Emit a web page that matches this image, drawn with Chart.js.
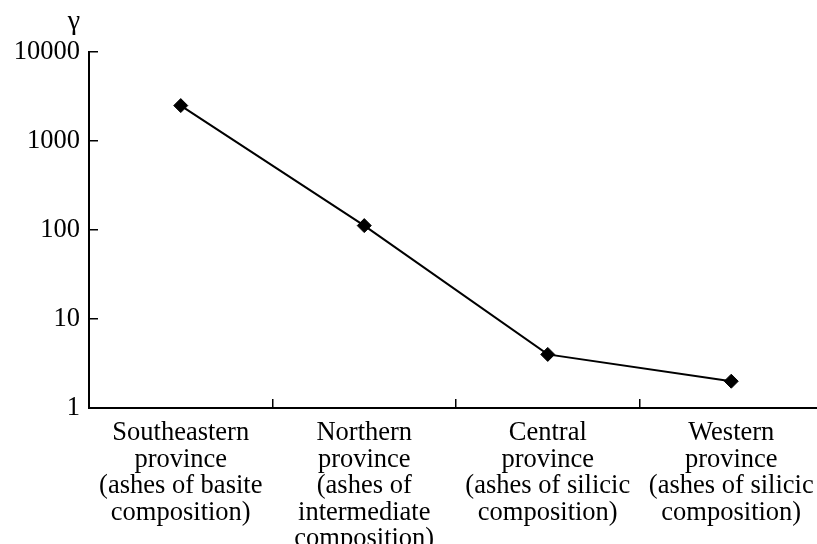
<!DOCTYPE html>
<html>
<head>
<meta charset="utf-8">
<script src="https://cdn.jsdelivr.net/npm/chart.js@4"></script>
<style>
  html, body { margin: 0; padding: 0; background: #fff; overflow: hidden; }
</style>
</head>
<body>
<canvas id="myChart" width="831" height="544"></canvas>
<script>
const provinces = [
    ["Southeastern", "province", "(ashes of basite", "composition)"],
    ["Northern", "province", "(ashes of", "intermediate", "composition)"],
    ["Central", "province", "(ashes of silicic", "composition)"],
    ["Western", "province", "(ashes of silicic", "composition)"],
];
const gammaValues = [2500, 112, 4, 2];
const yTicks = [1, 10, 100, 1000, 10000];
const yTitle = "γ";

const serif = "'Liberation Serif', 'Times New Roman', serif";

// draws the γ label above the y axis
const axisTitle = {
    id: "axisTitle",
    afterDraw(chart) {
        const y = chart.scales.y;
        const ctx = chart.ctx;
        ctx.save();
        ctx.font = "28px " + serif;
        ctx.fillStyle = "#000";
        ctx.textAlign = "center";
        ctx.textBaseline = "alphabetic";
        ctx.fillText(yTitle, y.right - 15, y.top - 23);
        ctx.restore();
    },
};

const ctx = document.getElementById("myChart");

new Chart(ctx, {
    type: "line",
    data: {
        labels: provinces,
        datasets: [
            {
                data: gammaValues,
                borderColor: "#000",
                borderWidth: 2,
                pointStyle: "rectRot",
                pointRadius: 7,
                pointBackgroundColor: "#000",
                pointBorderColor: "#000",
                pointBorderWidth: 1,
                tension: 0,
            },
        ],
    },
    plugins: [axisTitle],
    options: {
        responsive: false,
        animation: false,
        layout: { padding: { top: 52, right: 0, left: 0, bottom: 0 } },
        plugins: {
            legend: { display: false },
            tooltip: { enabled: false },
        },
        scales: {
            x: {
                type: "category",
                offset: true,
                grid: {
                    offset: true,
                    drawOnChartArea: false,
                    tickLength: -9,
                    color: "#000",
                    lineWidth: 1.5,
                },
                border: { color: "#000", width: 2 },
                ticks: {
                    color: "#000",
                    padding: 21,
                    maxRotation: 0,
                    autoSkip: false,
                    font: { family: serif, size: 26.5, lineHeight: 1.0 },
                },
                afterFit(scale) {
                    scale.height = 136;
                    scale.paddingLeft = 0;
                    scale.paddingRight = 0;
                },
            },
            y: {
                type: "logarithmic",
                min: 1,
                max: 10000,
                afterBuildTicks(scale) {
                    scale.ticks = yTicks.map((v) => ({ value: v }));
                },
                grid: {
                    drawOnChartArea: false,
                    tickLength: -9,
                    color: "#000",
                    lineWidth: 1.5,
                },
                border: { color: "#000", width: 2 },
                ticks: {
                    color: "#000",
                    padding: 18,
                    font: { family: serif, size: 26.5 },
                    callback: (v) => String(v),
                },
                afterFit(scale) {
                    scale.width = 89;
                    scale.paddingTop = 0;
                    scale.paddingBottom = 0;
                },
            },
        },
    },
});
</script>
</body>
</html>
